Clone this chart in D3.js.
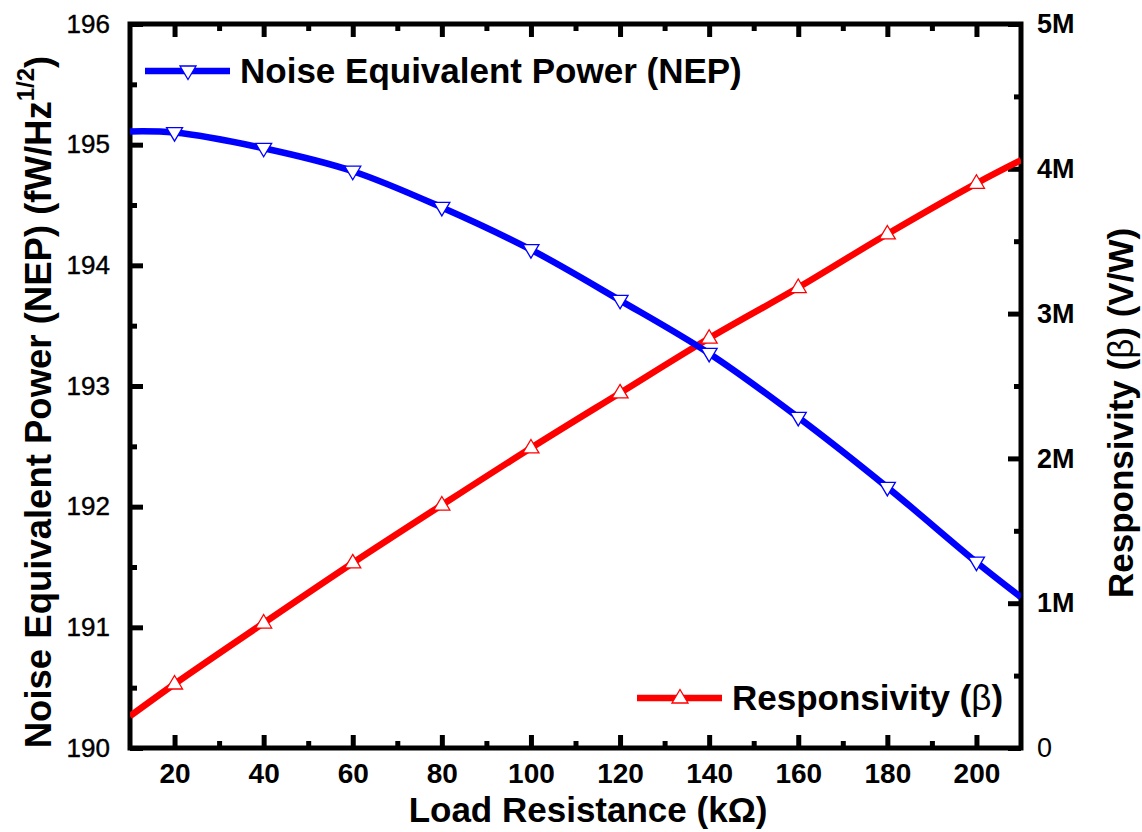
<!DOCTYPE html>
<html>
<head>
<meta charset="utf-8">
<script src="https://cdn.jsdelivr.net/npm/d3@7"></script>
<style>
  body { margin: 0; background: #fff; }
  svg { font-family: "Liberation Sans", Arial, sans-serif; }
</style>
</head>
<body>
<div id="chart"></div>
<script>
// Load resistance (kOhm)
const loadRes = [10, 20, 40, 60, 80, 100, 120, 140, 160, 180, 200, 210];
// Noise equivalent power (fW/Hz^1/2)
const nepVals = [195.11, 195.10, 194.97, 194.78, 194.48, 194.13, 193.71, 193.27, 192.74, 192.16, 191.54, 191.25];
// Responsivity (V/W)
const respVals = [0.22e6, 0.442e6, 0.863e6, 1.278e6, 1.678e6, 2.072e6, 2.452e6, 2.83e6, 3.18e6, 3.55e6, 3.90e6, 4.06e6];
// which points get a marker
const markerX = [20, 40, 60, 80, 100, 120, 140, 160, 180, 200];

const xTicks = [20, 40, 60, 80, 100, 120, 140, 160, 180, 200];
const xMinor = [30, 50, 70, 90, 110, 130, 150, 170, 190];
const leftTicks = [190, 191, 192, 193, 194, 195, 196];
const leftMinor = [190.5, 191.5, 192.5, 193.5, 194.5, 195.5];
const rightTicks = [0, 1e6, 2e6, 3e6, 4e6, 5e6];
const rightMinor = [0.5e6, 1.5e6, 2.5e6, 3.5e6, 4.5e6];

const width = 1142, height = 832;
const margin = { left: 130, right: 121, top: 24, bottom: 84 };
const FONT = "Liberation Sans, Arial, sans-serif";

const svg = d3.select("#chart").append("svg")
    .attr("width", width)
    .attr("height", height);

const x = d3.scaleLinear().domain([10, 210]).range([margin.left, width - margin.right]);
const yL = d3.scaleLinear().domain([190, 196]).range([height - margin.bottom, margin.top]);
const yR = d3.scaleLinear().domain([0, 5e6]).range([height - margin.bottom, margin.top]);

const bottomY = height - margin.bottom;
const rightX = width - margin.right;

svg.append("defs").append("clipPath").attr("id", "clip")
    .append("rect")
    .attr("x", margin.left).attr("y", margin.top)
    .attr("width", rightX - margin.left).attr("height", bottomY - margin.top);

function styleAxis(g) {
    g.select("path.domain").remove();
    g.selectAll(".tick line").attr("stroke", "#000").attr("stroke-width", 5);
}

// bottom axis
svg.append("g")
    .attr("transform", "translate(0," + bottomY + ")")
    .call(d3.axisBottom(x).tickValues(xTicks).tickSizeInner(-13).tickSizeOuter(0).tickPadding(15))
    .call(styleAxis)
    .call(g => g.selectAll("text").attr("font-size", 28).attr("font-weight", "bold").attr("fill", "#000")
        .attr("font-family", FONT));
svg.append("g")
    .attr("transform", "translate(0," + bottomY + ")")
    .call(d3.axisBottom(x).tickValues(xMinor).tickSizeInner(-7).tickSizeOuter(0).tickFormat(""))
    .call(styleAxis);

// top axis
svg.append("g")
    .attr("transform", "translate(0," + margin.top + ")")
    .call(d3.axisTop(x).tickValues(xTicks).tickSizeInner(-13).tickSizeOuter(0).tickFormat(""))
    .call(styleAxis);
svg.append("g")
    .attr("transform", "translate(0," + margin.top + ")")
    .call(d3.axisTop(x).tickValues(xMinor).tickSizeInner(-7).tickSizeOuter(0).tickFormat(""))
    .call(styleAxis);

// left axis
svg.append("g")
    .attr("transform", "translate(" + margin.left + ",0)")
    .call(d3.axisLeft(yL).tickValues(leftTicks).tickSizeInner(-13).tickSizeOuter(0).tickPadding(20)
        .tickFormat(d3.format("d")))
    .call(styleAxis)
    .call(g => g.selectAll("text").attr("font-size", 26).attr("fill", "#000")
        .attr("stroke", "#000").attr("stroke-width", 0.4)
        .attr("font-family", FONT));
svg.append("g")
    .attr("transform", "translate(" + margin.left + ",0)")
    .call(d3.axisLeft(yL).tickValues(leftMinor).tickSizeInner(-7).tickSizeOuter(0).tickFormat(""))
    .call(styleAxis);

// right axis
svg.append("g")
    .attr("transform", "translate(" + rightX + ",0)")
    .call(d3.axisRight(yR).tickValues(rightTicks).tickSizeInner(-13).tickSizeOuter(0).tickPadding(16)
        .tickFormat(d => d === 0 ? "0" : (d / 1e6) + "M"))
    .call(styleAxis)
    .call(g => g.selectAll("text").attr("font-size", 27).attr("fill", "#000")
        .attr("font-weight", d => d === 0 ? "normal" : "bold")
        .attr("font-family", FONT));
svg.append("g")
    .attr("transform", "translate(" + rightX + ",0)")
    .call(d3.axisRight(yR).tickValues(rightMinor).tickSizeInner(-7).tickSizeOuter(0).tickFormat(""))
    .call(styleAxis);

// frame
svg.append("rect")
    .attr("x", margin.left).attr("y", margin.top)
    .attr("width", rightX - margin.left).attr("height", bottomY - margin.top)
    .attr("fill", "none").attr("stroke", "#000").attr("stroke-width", 5);

// data lines
const plot = svg.append("g").attr("clip-path", "url(#clip)");

const nepLine = d3.line().x((d, i) => x(loadRes[i])).y(d => yL(d)).curve(d3.curveCatmullRom.alpha(0.5));
const respLine = d3.line().x((d, i) => x(loadRes[i])).y(d => yR(d)).curve(d3.curveCatmullRom.alpha(0.5));

plot.append("path").datum(respVals)
    .attr("d", respLine).attr("fill", "none").attr("stroke", "#ff0000").attr("stroke-width", 6.5);
plot.append("path").datum(nepVals)
    .attr("d", nepLine).attr("fill", "none").attr("stroke", "#0000ff").attr("stroke-width", 6.5);

const triUp = "M0,-8.5L8,5L-8,5Z";
const triDown = "M0,8.5L8,-5L-8,-5Z";

const markIdx = loadRes.map((v, i) => i).filter(i => markerX.includes(loadRes[i]));

plot.selectAll(".mk-resp").data(markIdx).enter().append("path")
    .attr("class", "mk-resp")
    .attr("transform", i => "translate(" + x(loadRes[i]) + "," + yR(respVals[i]) + ")")
    .attr("d", triUp).attr("fill", "#fff").attr("stroke", "#ff0000").attr("stroke-width", 1.3);
plot.selectAll(".mk-nep").data(markIdx).enter().append("path")
    .attr("class", "mk-nep")
    .attr("transform", i => "translate(" + x(loadRes[i]) + "," + yL(nepVals[i]) + ")")
    .attr("d", triDown).attr("fill", "#fff").attr("stroke", "#0000ff").attr("stroke-width", 1.3);

// legends
function legend(x0, y0, color, shape) {
    const g = svg.append("g");
    g.append("line").attr("x1", x0).attr("x2", x0 + 85).attr("y1", y0).attr("y2", y0)
        .attr("stroke", color).attr("stroke-width", 6.5);
    g.append("path").attr("transform", "translate(" + (x0 + 43) + "," + y0 + ")")
        .attr("d", shape).attr("fill", "#fff").attr("stroke", color).attr("stroke-width", 1.3);
    return g.append("text").attr("x", x0 + 95).attr("y", y0 + 12)
        .attr("font-size", 35).attr("font-weight", "bold").attr("fill", "#000");
}
legend(145, 71, "#0000ff", triDown).text("Noise Equivalent Power (NEP)");
const rl = legend(637, 698, "#ff0000", triUp);
rl.append("tspan").text("Responsivity (");
rl.append("tspan").attr("font-weight", "normal").text("β");
rl.append("tspan").text(")");

// axis titles
svg.append("text")
    .attr("x", 588).attr("y", 822)
    .attr("text-anchor", "middle").attr("font-size", 35).attr("font-weight", "bold")
    .text("Load Resistance (kΩ)");

const lt = svg.append("text")
    .attr("transform", "translate(51,402) rotate(-90)")
    .attr("text-anchor", "middle").attr("font-size", 36.5).attr("font-weight", "bold");
lt.append("tspan").text("Noise Equivalent Power (NEP) (fW/Hz");
lt.append("tspan").attr("font-size", 24).attr("dy", -17).text("1/2");
lt.append("tspan").attr("dy", 17).text(")");

const rt = svg.append("text")
    .attr("transform", "translate(1133,413) rotate(-90)")
    .attr("text-anchor", "middle").attr("font-size", 35).attr("font-weight", "bold");
rt.append("tspan").text("Responsivity (");
rt.append("tspan").attr("font-weight", "normal").text("β");
rt.append("tspan").text(") (V/W)");
</script>
</body>
</html>
